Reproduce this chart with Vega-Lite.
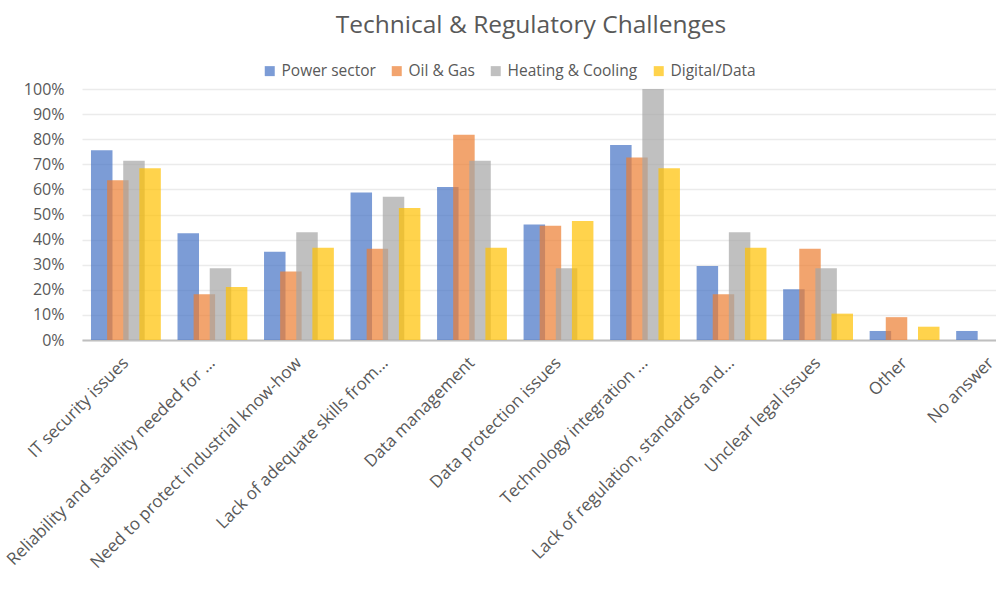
{
  "$schema": "https://vega.github.io/schema/vega-lite/v6.json",
  "autosize": "none",
  "width": 912,
  "height": 251,
  "padding": {"left": 82, "top": 89, "right": 2, "bottom": 249},
  "background": "white",
  "title": {"text": "Technical & Regulatory Challenges", "fontSize": 24.5, "font": "Open Sans", "fontWeight": "normal", "color": "#595959", "anchor": "middle", "offset": 25, "dx": -7},
  "data": {"values": [
    {"category": "IT security issues", "series": "Power sector", "value": 0.756},
    {"category": "Reliability and stability needed for ...", "series": "Power sector", "value": 0.425},
    {"category": "Need to protect industrial know-how", "series": "Power sector", "value": 0.352},
    {"category": "Lack of adequate skills from...", "series": "Power sector", "value": 0.588},
    {"category": "Data management", "series": "Power sector", "value": 0.61},
    {"category": "Data protection issues", "series": "Power sector", "value": 0.46},
    {"category": "Technology integration ...", "series": "Power sector", "value": 0.777},
    {"category": "Lack of regulation, standards and...", "series": "Power sector", "value": 0.295},
    {"category": "Unclear legal issues", "series": "Power sector", "value": 0.202},
    {"category": "Other", "series": "Power sector", "value": 0.036},
    {"category": "No answer", "series": "Power sector", "value": 0.036},
    {"category": "IT security issues", "series": "Oil & Gas", "value": 0.636},
    {"category": "Reliability and stability needed for ...", "series": "Oil & Gas", "value": 0.182},
    {"category": "Need to protect industrial know-how", "series": "Oil & Gas", "value": 0.273},
    {"category": "Lack of adequate skills from...", "series": "Oil & Gas", "value": 0.364},
    {"category": "Data management", "series": "Oil & Gas", "value": 0.818},
    {"category": "Data protection issues", "series": "Oil & Gas", "value": 0.455},
    {"category": "Technology integration ...", "series": "Oil & Gas", "value": 0.727},
    {"category": "Lack of regulation, standards and...", "series": "Oil & Gas", "value": 0.182},
    {"category": "Unclear legal issues", "series": "Oil & Gas", "value": 0.364},
    {"category": "Other", "series": "Oil & Gas", "value": 0.091},
    {"category": "No answer", "series": "Oil & Gas", "value": 0},
    {"category": "IT security issues", "series": "Heating & Cooling", "value": 0.714},
    {"category": "Reliability and stability needed for ...", "series": "Heating & Cooling", "value": 0.286},
    {"category": "Need to protect industrial know-how", "series": "Heating & Cooling", "value": 0.429},
    {"category": "Lack of adequate skills from...", "series": "Heating & Cooling", "value": 0.571},
    {"category": "Data management", "series": "Heating & Cooling", "value": 0.714},
    {"category": "Data protection issues", "series": "Heating & Cooling", "value": 0.286},
    {"category": "Technology integration ...", "series": "Heating & Cooling", "value": 1.0},
    {"category": "Lack of regulation, standards and...", "series": "Heating & Cooling", "value": 0.429},
    {"category": "Unclear legal issues", "series": "Heating & Cooling", "value": 0.286},
    {"category": "Other", "series": "Heating & Cooling", "value": 0},
    {"category": "No answer", "series": "Heating & Cooling", "value": 0},
    {"category": "IT security issues", "series": "Digital/Data", "value": 0.684},
    {"category": "Reliability and stability needed for ...", "series": "Digital/Data", "value": 0.211},
    {"category": "Need to protect industrial know-how", "series": "Digital/Data", "value": 0.368},
    {"category": "Lack of adequate skills from...", "series": "Digital/Data", "value": 0.526},
    {"category": "Data management", "series": "Digital/Data", "value": 0.368},
    {"category": "Data protection issues", "series": "Digital/Data", "value": 0.474},
    {"category": "Technology integration ...", "series": "Digital/Data", "value": 0.684},
    {"category": "Lack of regulation, standards and...", "series": "Digital/Data", "value": 0.368},
    {"category": "Unclear legal issues", "series": "Digital/Data", "value": 0.105},
    {"category": "Other", "series": "Digital/Data", "value": 0.053},
    {"category": "No answer", "series": "Digital/Data", "value": 0}
  ]},
  "mark": {"type": "bar", "width": 21.5, "opacity": 0.7},
  "encoding": {
    "x": {
      "field": "category", "type": "nominal", "sort": null,
      "scale": {"range": [0, 953], "paddingInner": 0.255, "paddingOuter": 0.135},
      "axis": {"title": null, "labelAngle": -45, "labelAlign": "right", "labelBaseline": "middle", "labelFontSize": 17, "labelColor": "#595959", "labelPadding": 20, "labelDx": -7, "labelDy": 3, "labelLimit": 500, "labelOverlap": false, "ticks": false, "domainColor": "#BFBFBF", "domainWidth": 2, "grid": false, "labelFont": "Open Sans"}
    },
    "xOffset": {"field": "series", "type": "nominal", "sort": ["Power sector", "Oil & Gas", "Heating & Cooling", "Digital/Data"], "scale": {"paddingInner": 0, "paddingOuter": 0}},
    "y": {
      "field": "value", "type": "quantitative",
      "scale": {"domain": [0, 1]},
      "axis": {"title": null, "format": ".0%", "values": [0, 0.1, 0.2, 0.3, 0.4, 0.5, 0.6, 0.7, 0.8, 0.9, 1], "labelFontSize": 16, "labelColor": "#595959", "labelPadding": 18, "ticks": false, "domain": false, "gridColor": "#EBEBEB", "gridWidth": 1.5, "labelFont": "Open Sans"}
    },
    "color": {
      "field": "series", "type": "nominal",
      "scale": {"domain": ["Power sector", "Oil & Gas", "Heating & Cooling", "Digital/Data"], "range": ["#4472C4", "#ED7D31", "#A5A5A5", "#FFC000"]},
      "legend": {"title": null, "orient": "none", "legendX": 180, "legendY": -26, "direction": "horizontal", "symbolType": "square", "symbolSize": 100, "symbolOpacity": 0.7, "symbolStrokeWidth": 0, "labelFontSize": 15.5, "labelColor": "#595959", "labelFont": "Open Sans", "columnPadding": 13, "labelOffset": 4}
    }
  },
  "config": {"view": {"stroke": null}, "font": "Open Sans"}
}
